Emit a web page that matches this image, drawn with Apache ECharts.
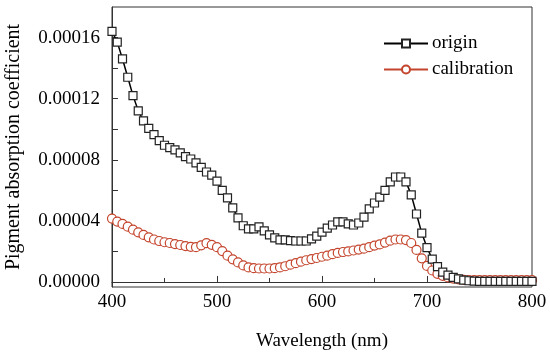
<!DOCTYPE html>
<html>
<head>
<meta charset="utf-8">
<script src="https://cdn.jsdelivr.net/npm/echarts@6/dist/echarts.min.js"></script>
<style>
html,body{margin:0;padding:0;background:#fff;}
#chart{width:550px;height:352px;}
</style>
</head>
<body>
<div id="chart"></div>
<script>
// Wavelength (nm)
var wavelengths = [400,405,410,415,420,425,430,435,440,445,450,455,460,465,470,475,480,485,490,495,
  500,505,510,515,520,525,530,535,540,545,550,555,560,565,570,575,580,585,590,595,
  600,605,610,615,620,625,630,635,640,645,650,655,660,665,670,675,680,685,690,695,
  700,705,710,715,720,725,730,735,740,745,750,755,760,765,770,775,780,785,790,795,800];

// Pigment absorption coefficient, in units of 1e-5
var originVals = [16.4,15.7,14.6,13.4,12.2,11.2,10.55,10.05,9.65,9.25,8.95,8.8,8.65,8.45,8.2,8.05,7.8,7.5,7.2,7.0,
  6.6,6.0,5.5,4.85,4.2,3.68,3.48,3.48,3.6,3.35,3.08,2.88,2.75,2.75,2.7,2.68,2.68,2.68,2.82,3.0,
  3.26,3.52,3.73,3.93,3.93,3.8,3.73,3.86,4.25,4.78,5.17,5.56,6.0,6.55,6.87,6.87,6.55,5.7,4.45,3.2,
  2.25,1.5,1.0,0.65,0.45,0.3,0.2,0.12,0.08,0.05,0.04,0.04,0.04,0.04,0.04,0.04,0.04,0.04,0.04,0.04,0.04];

var calibrationVals = [4.15,3.95,3.8,3.62,3.42,3.25,3.08,2.92,2.78,2.68,2.6,2.55,2.48,2.42,2.35,2.3,2.28,2.4,2.54,2.43,
  2.28,2.02,1.72,1.48,1.28,1.08,0.95,0.9,0.88,0.88,0.88,0.9,0.95,1.03,1.13,1.23,1.33,1.42,1.5,1.57,
  1.65,1.72,1.82,1.9,1.96,2.0,2.06,2.12,2.18,2.28,2.38,2.46,2.58,2.7,2.78,2.78,2.74,2.55,2.1,1.55,
  1.05,0.75,0.53,0.4,0.3,0.22,0.17,0.14,0.12,0.12,0.12,0.12,0.12,0.12,0.12,0.12,0.12,0.12,0.12,0.12,0.12];

var seriesNames = ['origin', 'calibration'];
var yTickLabels = ['0.00000','0.00004','0.00008','0.00012','0.00016'];
var xTickLabels = ['400','500','600','700','800'];

var SCALE = 1e-5;
function pairs(vals){ return wavelengths.map(function(w,i){ return [w, vals[i]*SCALE]; }); }

var FONT = '"Liberation Serif", "Times New Roman", serif';
var chart = echarts.init(document.getElementById('chart'), null, {renderer:'canvas'});
chart.setOption({
  animation:false,
  backgroundColor:'#fff',
  grid:{left:112, right:18, top:7, bottom:65, show:true, borderColor:'#333', borderWidth:1,
    backgroundColor:'transparent', containLabel:false, outerBoundsMode:'none'},
  legend:{
    orient:'vertical', left:378, top:29, itemWidth:44, itemHeight:10, itemGap:7,
    textStyle:{fontFamily:FONT, fontSize:19, color:'#000', padding:[0,0,0,-1]},
    data:seriesNames
  },
  xAxis:{
    type:'value', min:400, max:800, interval:100,
    name:'Wavelength (nm)', nameLocation:'middle', nameGap:45,
    nameTextStyle:{fontFamily:FONT, fontSize:19, color:'#000'},
    axisLine:{lineStyle:{color:'#333', width:1}},
    axisTick:{inside:true, length:6, lineStyle:{color:'#333'}},
    minorTick:{show:true, splitNumber:2, length:4, lineStyle:{color:'#333'}},
    splitLine:{show:false},
    axisLabel:{fontFamily:FONT, fontSize:19, color:'#000', margin:6,
      formatter:function(v){ var s=String(Math.round(v)); return xTickLabels.indexOf(s)>=0 ? s : ''; }}
  },
  yAxis:{
    type:'value', min:-0.0000033, max:0.00018,
    axisLabel:{fontFamily:FONT, fontSize:19, color:'#000', margin:12,
      customValues:[0,0.00004,0.00008,0.00012,0.00016],
      formatter:function(v){ var i=Math.round(v/0.00004); return yTickLabels[i] || ''; }},
    axisTick:{inside:true, length:6, lineStyle:{color:'#333'},
      customValues:[0,0.00002,0.00004,0.00006,0.00008,0.0001,0.00012,0.00014,0.00016]},
    name:'Pigment absorption coefficient', nameLocation:'middle', nameGap:88,
    nameTextStyle:{fontFamily:FONT, fontSize:20, color:'#000'},
    axisLine:{show:true, lineStyle:{color:'#333', width:1}},
    splitLine:{show:false}
  },
  series:[
    {
      name:seriesNames[0], type:'line', data:pairs(originVals),
      symbol:'rect', symbolSize:8, showAllSymbol:true,
      lineStyle:{color:'#000', width:1.5},
      itemStyle:{color:'#fff', borderColor:'#222', borderWidth:1.2},
      z:3
    },
    {
      name:seriesNames[1], type:'line', data:pairs(calibrationVals),
      symbol:'circle', symbolSize:9, showAllSymbol:true,
      lineStyle:{color:'#c4452d', width:1.5},
      itemStyle:{color:'#fff', borderColor:'#c4452d', borderWidth:1.2},
      z:2
    }
  ]
});
</script>
</body>
</html>
